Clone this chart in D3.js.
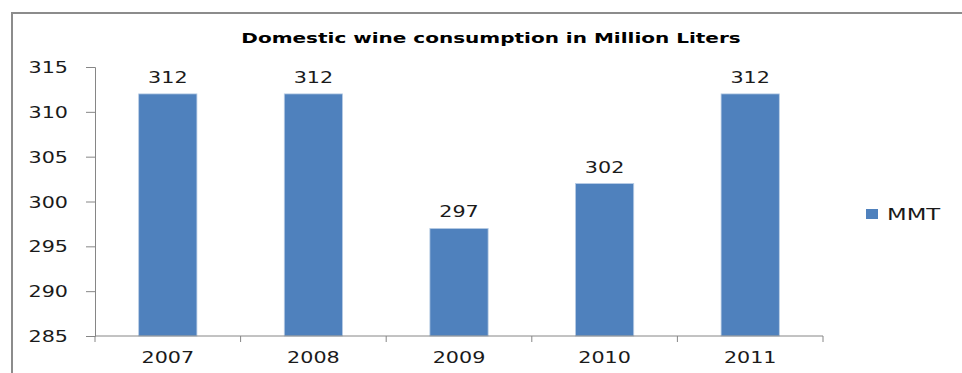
<!DOCTYPE html>
<html>
<head>
<meta charset="utf-8">
<script src="https://cdn.jsdelivr.net/npm/d3@7"></script>
<style>
    body { margin: 0; background: #fff; }
    svg { display: block; }
</style>
</head>
<body>
<div id="chart"></div>
<script>
// chart data
const years = ['2007', '2008', '2009', '2010', '2011'];
const consumption = [312, 312, 297, 302, 312];
const yTicks = [285, 290, 295, 300, 305, 310, 315];
const seriesName = 'MMT';
const chartTitle = 'Domestic wine consumption in Million Liters';

const width = 962, height = 373;
const margin = { top: 67, right: 139, bottom: 37, left: 95 };
const barColor = '#4F81BD';
const axisColor = '#868686';
const textColor = '#1a1a1a';
// the source image is stretched horizontally, so text gets widened too
const stretch = 1.38;

const svg = d3.select('#chart')
    .append('svg')
    .attr('width', width)
    .attr('height', height)
    .style('font-family', '"DejaVu Sans", sans-serif');

// outer frame, cut off on the right and bottom
svg.append('path')
    .attr('d', `M12,${height + 5} V13 H${width + 5}`)
    .attr('fill', 'none')
    .attr('stroke', '#8c8c8c')
    .attr('stroke-width', 2);

const x = d3.scaleBand()
    .domain(years)
    .range([margin.left, width - margin.right])
    .paddingInner(0.6)
    .paddingOuter(0.3);

const y = d3.scaleLinear()
    .domain([285, 315])
    .range([height - margin.bottom, margin.top]);

const stretchedText = (sel, px, py) => sel
    .attr('transform', `translate(${px},${py}) scale(${stretch},1)`);

// title
svg.append('text')
    .call(stretchedText, 491, 43)
    .attr('text-anchor', 'middle')
    .style('font-size', '14.5px')
    .style('font-weight', 'bold')
    .attr('fill', '#000')
    .text(chartTitle);

// bars
svg.append('g')
    .selectAll('rect')
    .data(consumption)
    .join('rect')
    .attr('x', (d, i) => x(years[i]))
    .attr('y', d => y(d))
    .attr('width', x.bandwidth())
    .attr('height', d => y(285) - y(d))
    .attr('fill', barColor)
    .attr('stroke', '#b9cde5')
    .attr('stroke-width', 0.8);

// value labels
svg.append('g')
    .selectAll('text')
    .data(consumption)
    .join('text')
    .each(function (d, i) {
        d3.select(this).call(stretchedText, x(years[i]) + x.bandwidth() / 2, y(d) - 11);
    })
    .attr('text-anchor', 'middle')
    .style('font-size', '15px')
    .attr('fill', textColor)
    .text(d => d);

// y axis
const yAxis = svg.append('g')
    .attr('transform', `translate(${margin.left},0)`)
    .call(d3.axisLeft(y).tickValues(yTicks).tickSize(9).tickFormat(d3.format('d')));
yAxis.select('.domain').attr('stroke', axisColor);
yAxis.selectAll('.tick line').attr('stroke', axisColor);
yAxis.selectAll('.tick text')
    .attr('x', null)
    .attr('dy', null)
    .attr('y', null)
    .attr('transform', `translate(-27,5.5) scale(${stretch},1)`)
    .attr('text-anchor', 'end')
    .attr('fill', textColor)
    .style('font-size', '15px')
    .style('font-family', '"DejaVu Sans", sans-serif');

// x axis with ticks at category boundaries
const xAxisG = svg.append('g')
    .attr('transform', `translate(0,${y(285)})`);
xAxisG.append('line')
    .attr('x1', margin.left)
    .attr('x2', width - margin.right)
    .attr('stroke', axisColor);
const step = x.step();
const boundaries = years.map((d, i) => x(d) - step * 0.3).concat([x(years[years.length - 1]) + x.bandwidth() + step * 0.3]);
xAxisG.selectAll('.xtick')
    .data(boundaries)
    .join('line')
    .attr('class', 'xtick')
    .attr('x1', d => d)
    .attr('x2', d => d)
    .attr('y1', 0)
    .attr('y2', 6)
    .attr('stroke', axisColor);
xAxisG.selectAll('.xlabel')
    .data(years)
    .join('text')
    .attr('class', 'xlabel')
    .each(function (d) {
        d3.select(this).call(stretchedText, x(d) + x.bandwidth() / 2, 27);
    })
    .attr('text-anchor', 'middle')
    .style('font-size', '15px')
    .attr('fill', textColor)
    .text(d => d);

// legend
const legend = svg.append('g');
legend.append('rect')
    .attr('x', 866)
    .attr('y', 209)
    .attr('width', 12)
    .attr('height', 10)
    .attr('fill', barColor);
legend.append('text')
    .call(stretchedText, 887, 219.5)
    .style('font-size', '16.5px')
    .attr('fill', textColor)
    .text(seriesName);
</script>
</body>
</html>
